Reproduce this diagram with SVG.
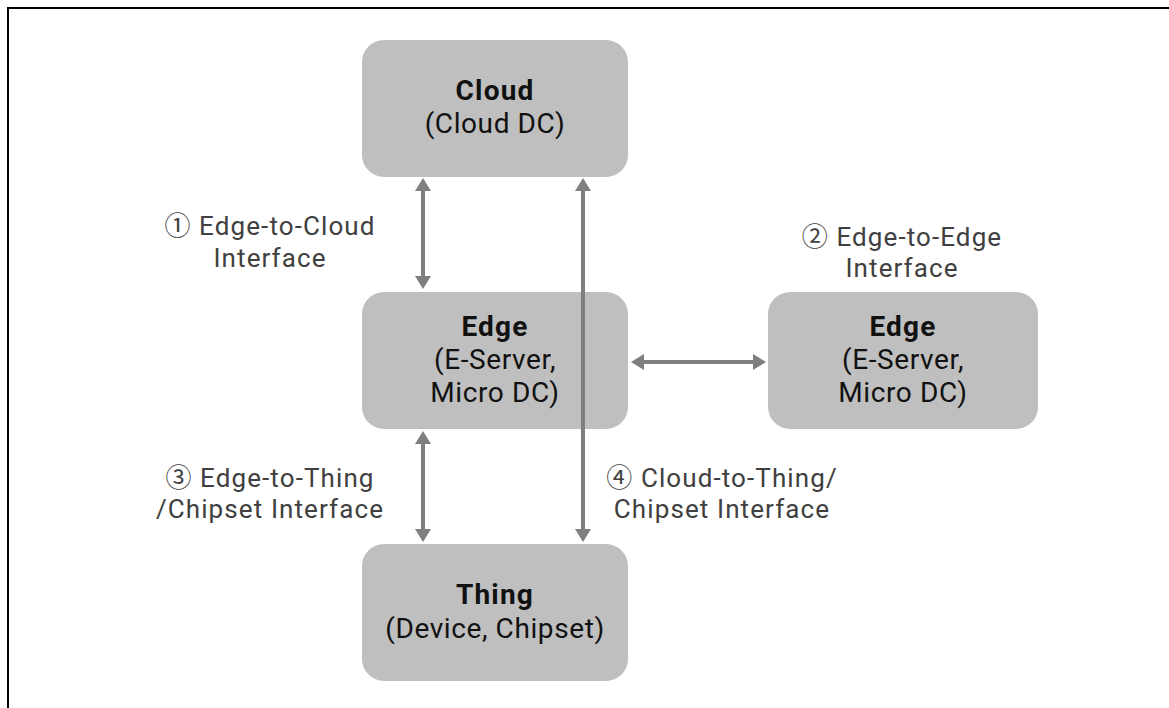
<svg xmlns="http://www.w3.org/2000/svg" width="1169" height="708" viewBox="0 0 1169 708">
  <style>
    .box { fill: #bfbfbf; }
    .node-text { font-family: Roboto, "Noto Sans CJK KR", sans-serif; font-size: 28px; letter-spacing: 0.6px; fill: #111111; text-anchor: middle; }
    .title { font-weight: bold; letter-spacing: 1.2px; }
    .label { font-family: Roboto, "Noto Sans CJK KR", sans-serif; font-size: 26px; letter-spacing: 1.1px; fill: #404040; text-anchor: middle; }
    .link { stroke: #7f7f7f; stroke-width: 4; fill: none; marker-start: url(#head); marker-end: url(#head); }
  </style>
  <defs>
    <marker id="head" viewBox="0 0 13 16" refX="1" refY="8" markerWidth="13" markerHeight="16" markerUnits="userSpaceOnUse" orient="auto-start-reverse">
      <path d="M0,0 L13,8 L0,16 Z" fill="#7f7f7f"/>
    </marker>
  </defs>

  <rect width="1169" height="708" fill="#ffffff"/>
  <!-- frame -->
  <path d="M8,708 V8 H1169" fill="none" stroke="#000000" stroke-width="2"/>

  <g id="cloud">
    <rect class="box" x="362" y="40" width="266" height="137" rx="22"/>
    <text class="node-text" x="495" y="100"><tspan class="title">Cloud</tspan><tspan x="495" dy="33">(Cloud DC)</tspan></text>
  </g>

  <g id="edge-main">
    <rect class="box" x="362" y="292" width="266" height="137" rx="22"/>
    <text class="node-text" x="495" y="336"><tspan class="title">Edge</tspan><tspan x="495" dy="33">(E-Server,</tspan><tspan x="495" dy="33">Micro DC)</tspan></text>
  </g>

  <g id="edge-peer">
    <rect class="box" x="768" y="292" width="270" height="137" rx="22"/>
    <text class="node-text" x="903" y="336"><tspan class="title">Edge</tspan><tspan x="903" dy="33">(E-Server,</tspan><tspan x="903" dy="33">Micro DC)</tspan></text>
  </g>

  <g id="thing">
    <rect class="box" x="362" y="544" width="266" height="137" rx="22"/>
    <text class="node-text" x="495" y="604"><tspan class="title">Thing</tspan><tspan x="495" dy="34">(Device, Chipset)</tspan></text>
  </g>

  <g id="connectors">
    <line class="link" x1="423" y1="190" x2="423" y2="277"/>
    <line class="link" x1="583" y1="190" x2="583" y2="530"/>
    <line class="link" x1="643" y1="362" x2="754" y2="362"/>
    <line class="link" x1="423" y1="443" x2="423" y2="530"/>
  </g>

  <g id="labels">
    <text class="label" x="270" y="235">① Edge-to-Cloud<tspan x="270" dy="32">Interface</tspan></text>
    <text class="label" x="902" y="246">② Edge-to-Edge<tspan x="902" dy="31">Interface</tspan></text>
    <text class="label" x="270" y="487">③ Edge-to-Thing<tspan x="270" dy="31">/Chipset Interface</tspan></text>
    <text class="label" x="722" y="487">④ Cloud-to-Thing/<tspan x="722" dy="31">Chipset Interface</tspan></text>
  </g>
</svg>
